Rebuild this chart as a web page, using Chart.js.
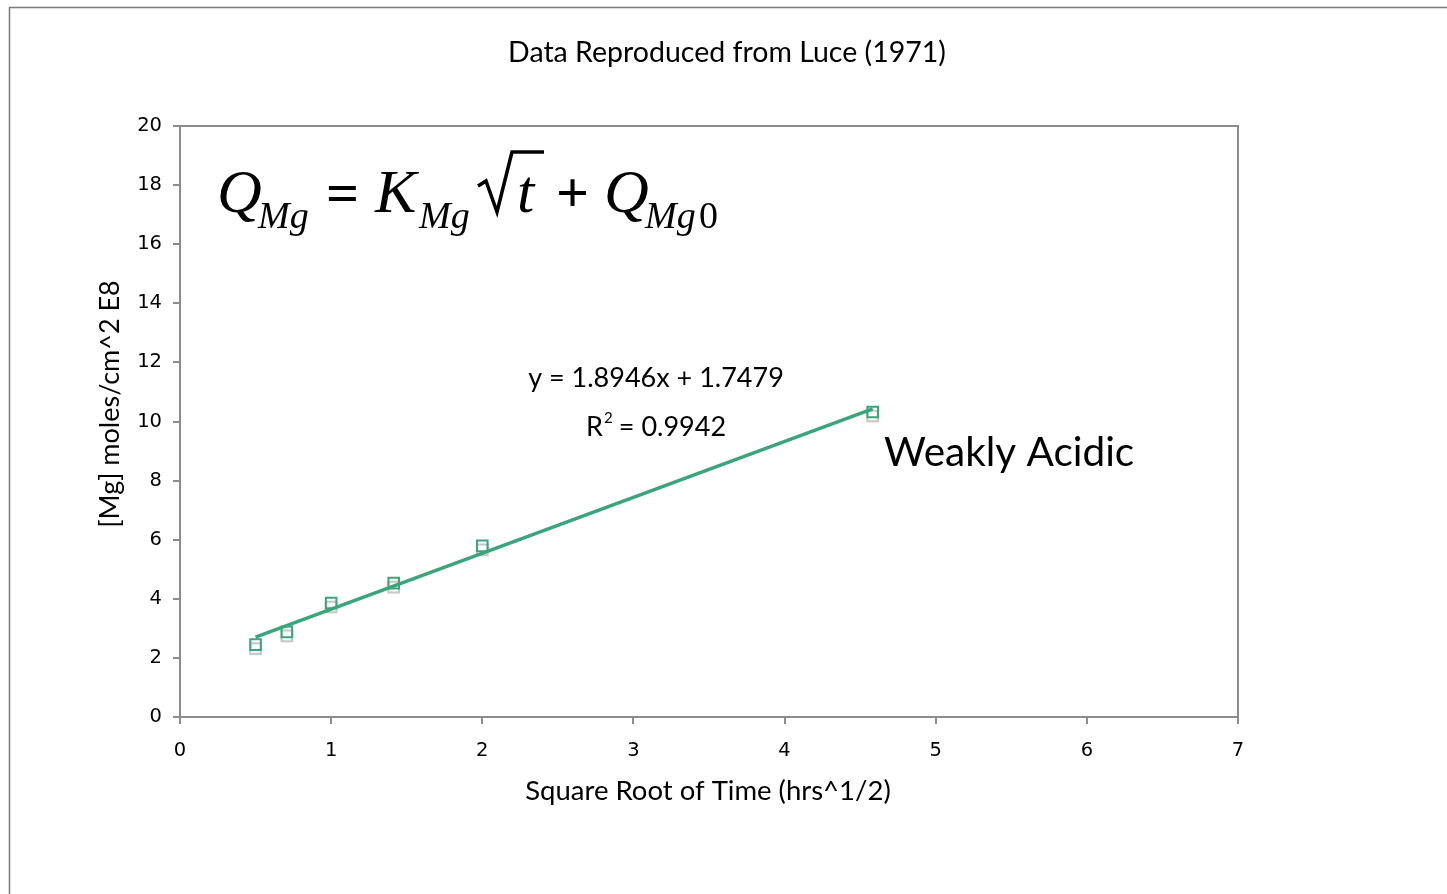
<!DOCTYPE html>
<html>
<head>
<meta charset="utf-8">
<script src="https://cdn.jsdelivr.net/npm/chart.js@4.4.0/dist/chart.umd.min.js"></script>
<style>
  html, body { margin: 0; padding: 0; background: #fff; overflow: hidden; }
  #chart { display: block; }
</style>
</head>
<body>
<canvas id="chart" width="1447" height="894"></canvas>
<script>
// measured points (square root of time vs [Mg])
var sqrtTime = [0.5, 0.707, 1.0, 1.414, 2.0, 4.583];
var mgValues = [2.45, 2.88, 3.86, 4.53, 5.79, 10.32];

// linear trendline endpoints
var trendX = [0.5, 4.583];
var trendY = [2.70, 10.43];

var xTicks = [0, 1, 2, 3, 4, 5, 6, 7];
var yTicks = [0, 2, 4, 6, 8, 10, 12, 14, 16, 18, 20];

var green = "#3aa57a";
var frameGray = "#8c8c8c";

function toPoints(xs, ys) {
    var pts = [];
    for (var i = 0; i < xs.length; i++) {
        pts.push({x: xs[i], y: ys[i]});
    }
    return pts;
}

// grey drop shadow under the markers, like the original spreadsheet chart
var markerShadow = {
    id: "markerShadow",
    beforeDatasetDraw: function(chart, args) {
        if (args.index == 1) {
            chart.ctx.save();
            chart.ctx.shadowColor = "rgba(120,120,120,0.45)";
            chart.ctx.shadowOffsetY = 4;
            chart.ctx.shadowBlur = 1;
        }
    },
    afterDatasetDraw: function(chart, args) {
        if (args.index == 1) {
            chart.ctx.restore();
        }
    }
};

var decorations = {
    id: "decorations",
    beforeDraw: function(chart) {
        var ctx = chart.ctx;
        ctx.save();
        ctx.fillStyle = "#fff";
        ctx.fillRect(0, 0, chart.width, chart.height);
        // outer frame
        ctx.strokeStyle = "#7a7a7a";
        ctx.lineWidth = 1.5;
        ctx.beginPath();
        ctx.moveTo(1447, 7.5);
        ctx.lineTo(9.5, 7.5);
        ctx.lineTo(9.5, 894);
        ctx.stroke();
        ctx.restore();
    },
    afterDraw: function(chart) {
        var ctx = chart.ctx;
        var a = chart.chartArea;
        ctx.save();
        // plot area border top and right
        ctx.strokeStyle = frameGray;
        ctx.lineWidth = 2;
        ctx.beginPath();
        ctx.moveTo(a.left, a.top);
        ctx.lineTo(a.right, a.top);
        ctx.lineTo(a.right, a.bottom);
        ctx.stroke();

        ctx.fillStyle = "#000";
        ctx.textAlign = "center";
        ctx.textBaseline = "middle";

        ctx.font = "28.5px Lato";
        ctx.fillText("Data Reproduced from Luce (1971)", 727, 53);

        ctx.font = "27.5px Lato";
        ctx.fillText("Square Root of Time (hrs^1/2)", 708, 791);

        ctx.save();
        ctx.translate(110, 404);
        ctx.rotate(-Math.PI / 2);
        ctx.font = "27px Lato";
        ctx.fillText("[Mg] moles/cm^2 E8", 0, 0);
        ctx.restore();

        // trendline label
        ctx.font = "27px Lato";
        ctx.fillText("y = 1.8946x + 1.7479", 656, 378);
        ctx.textAlign = "left";
        ctx.fillText("R", 586, 427);
        var rw = ctx.measureText("R").width;
        ctx.font = "15px Lato";
        ctx.fillText("2", 586 + rw + 1, 418);
        ctx.font = "27px Lato";
        ctx.fillText(" = 0.9942", 586 + rw + 9, 427);

        ctx.font = "40.5px Lato";
        ctx.fillText("Weakly Acidic", 884, 453);

        // equation Q_Mg = K_Mg sqrt(t) + Q_Mg0
        ctx.textBaseline = "alphabetic";
        var base = 212;
        ctx.font = "italic 62px 'Liberation Serif'";
        ctx.fillText("Q", 217, base);
        ctx.font = "italic 38px 'Liberation Serif'";
        ctx.fillText("Mg", 258, base + 16);
        ctx.font = "bold 58px 'Liberation Serif'";
        ctx.fillText("=", 326, base);
        ctx.font = "italic 62px 'Liberation Serif'";
        ctx.fillText("K", 375, base);
        ctx.font = "italic 38px 'Liberation Serif'";
        ctx.fillText("Mg", 419, base + 16);
        // radical sign
        ctx.strokeStyle = "#000";
        ctx.lineWidth = 3.5;
        ctx.beginPath();
        ctx.moveTo(478, 186);
        ctx.lineTo(486, 181);
        ctx.lineTo(497, 212);
        ctx.lineTo(512, 152);
        ctx.lineTo(544, 152);
        ctx.stroke();
        ctx.font = "italic 62px 'Liberation Serif'";
        ctx.fillText("t", 517, base);
        ctx.font = "bold 58px 'Liberation Serif'";
        ctx.fillText("+", 556, base);
        ctx.font = "italic 62px 'Liberation Serif'";
        ctx.fillText("Q", 604, base);
        ctx.font = "italic 38px 'Liberation Serif'";
        ctx.fillText("Mg", 645, base + 16);
        ctx.font = "38px 'Liberation Serif'";
        ctx.fillText("0", 699, base + 16);
        ctx.restore();
    }
};

new Chart(document.getElementById("chart"), {
    type: "scatter",
    data: {
        datasets: [{
            label: "Linear (Weakly Acidic)",
            data: toPoints(trendX, trendY),
            showLine: true,
            borderColor: green,
            borderWidth: 3.5,
            pointRadius: 0,
            fill: false
        }, {
            label: "Weakly Acidic",
            data: toPoints(sqrtTime, mgValues),
            showLine: false,
            pointStyle: "rect",
            pointRadius: 7.5,
            borderColor: green,
            borderWidth: 2,
            backgroundColor: "rgba(255,255,255,0)"
        }]
    },
    plugins: [decorations, markerShadow],
    options: {
        responsive: false,
        animation: false,
        devicePixelRatio: 1,
        layout: {padding: {left: 0, right: 209, top: 126, bottom: 0}},
        plugins: {
            legend: {display: false},
            tooltip: {enabled: false}
        },
        scales: {
            x: {
                type: "linear",
                min: 0,
                max: 7,
                afterBuildTicks: function(scale) {
                    scale.ticks = xTicks.map(function(v) { return {value: v}; });
                },
                afterFit: function(scale) { scale.height = 177; },
                grid: {drawOnChartArea: false, drawTicks: true, tickLength: 7, color: frameGray, lineWidth: 2},
                border: {color: frameGray, width: 2},
                ticks: {color: "#000", padding: 15, font: {family: "DejaVu Sans", size: 19.5}, maxRotation: 0}
            },
            y: {
                type: "linear",
                min: 0,
                max: 20,
                afterBuildTicks: function(scale) {
                    scale.ticks = yTicks.map(function(v) { return {value: v}; });
                },
                afterFit: function(scale) { scale.width = 180; },
                grid: {drawOnChartArea: false, drawTicks: true, tickLength: 7, color: frameGray, lineWidth: 2},
                border: {color: frameGray, width: 2},
                ticks: {color: "#000", padding: 11, font: {family: "DejaVu Sans", size: 19.5}}
            }
        }
    }
});
</script>
</body>
</html>
